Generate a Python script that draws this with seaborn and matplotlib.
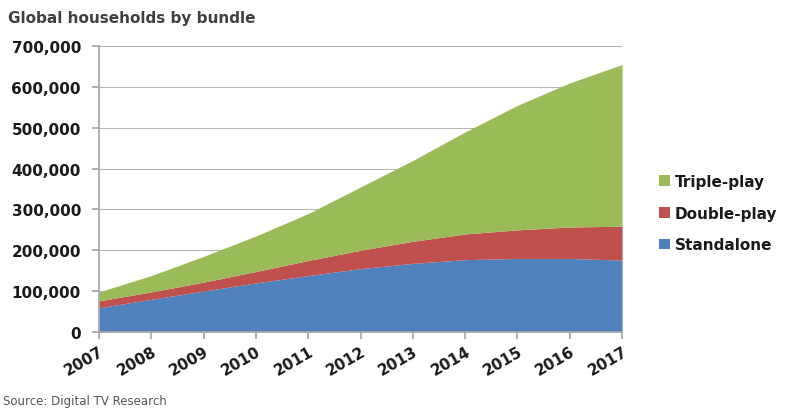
import numpy as np
import pandas as pd
import seaborn as sns
import matplotlib.pyplot as plt
from matplotlib.ticker import FuncFormatter

years = [2007, 2008, 2009, 2010, 2011, 2012, 2013, 2014, 2015, 2016, 2017]
standalone = [59000, 80000, 100000, 120000, 138000, 155000, 168000, 177000, 180000, 180000, 176000]
double_play = [17000, 18000, 22000, 28000, 37000, 45000, 54000, 63000, 70000, 77000, 83000]
triple_play = [22000, 40000, 63000, 87000, 115000, 155000, 198000, 250000, 305000, 353000, 396000]

series_names = ["Standalone", "Double-play", "Triple-play"]
colors = ["#4F81BD", "#C0504D", "#9BBB59"]

df = pd.DataFrame({"year": years, "Standalone": standalone,
                   "Double-play": double_play, "Triple-play": triple_play})

sns.set_theme(style="white")
plt.rcParams['font.family'] = ['DejaVu Sans']

fig = plt.figure(figsize=(7.95, 4.1), dpi=100)
ax = fig.add_axes([0.1245, 0.188, 0.658, 0.697])

ax.stackplot(df["year"], [df[s] for s in series_names], colors=colors,
             labels=series_names, linewidth=0)

ax.set_xlim(2007, 2017)
ax.set_ylim(0, 700000)
ax.set_yticks(np.arange(0, 700001, 100000))
ax.set_xticks(years)
ax.yaxis.set_major_formatter(FuncFormatter(lambda v, p: f"{int(v):,}"))
ax.grid(axis="y", color="#B8B8B8", linewidth=0.8)
ax.set_axisbelow(True)
for s in ["top", "right"]:
    ax.spines[s].set_visible(False)
for s in ["left", "bottom"]:
    ax.spines[s].set_color("#A6A6A6")
ax.tick_params(axis="both", which="both", length=5, color="#A6A6A6",
               direction="out", bottom=True, left=True)
ax.tick_params(axis="y", labelsize=11, pad=8, labelcolor="#1a1a1a")
ax.tick_params(axis="x", labelsize=11, pad=3, labelcolor="#1a1a1a")
for lbl in ax.get_yticklabels():
    lbl.set_fontweight("bold")
for lbl in ax.get_xticklabels():
    lbl.set_fontweight("bold")
    lbl.set_rotation(30)
    lbl.set_ha("right")
    lbl.set_rotation_mode("anchor")

handles, labels = ax.get_legend_handles_labels()
leg = fig.legend(handles[::-1], labels[::-1], loc="center left",
                 bbox_to_anchor=(0.812, 0.478), frameon=False,
                 handlelength=0.7, handleheight=0.7, handletextpad=0.3,
                 labelspacing=1.1, prop={"size": 11, "weight": "bold"})
for t in leg.get_texts():
    t.set_color("#1a1a1a")

fig.text(0.01, 0.955, "Global households by bundle", fontsize=11,
         fontweight="bold", color="#404040", ha="left", va="center")
fig.text(0.004, 0.004, "Source: Digital TV Research", fontsize=8.5,
         color="#555555", ha="left", va="bottom")

fig.savefig("out.png", dpi=100)
